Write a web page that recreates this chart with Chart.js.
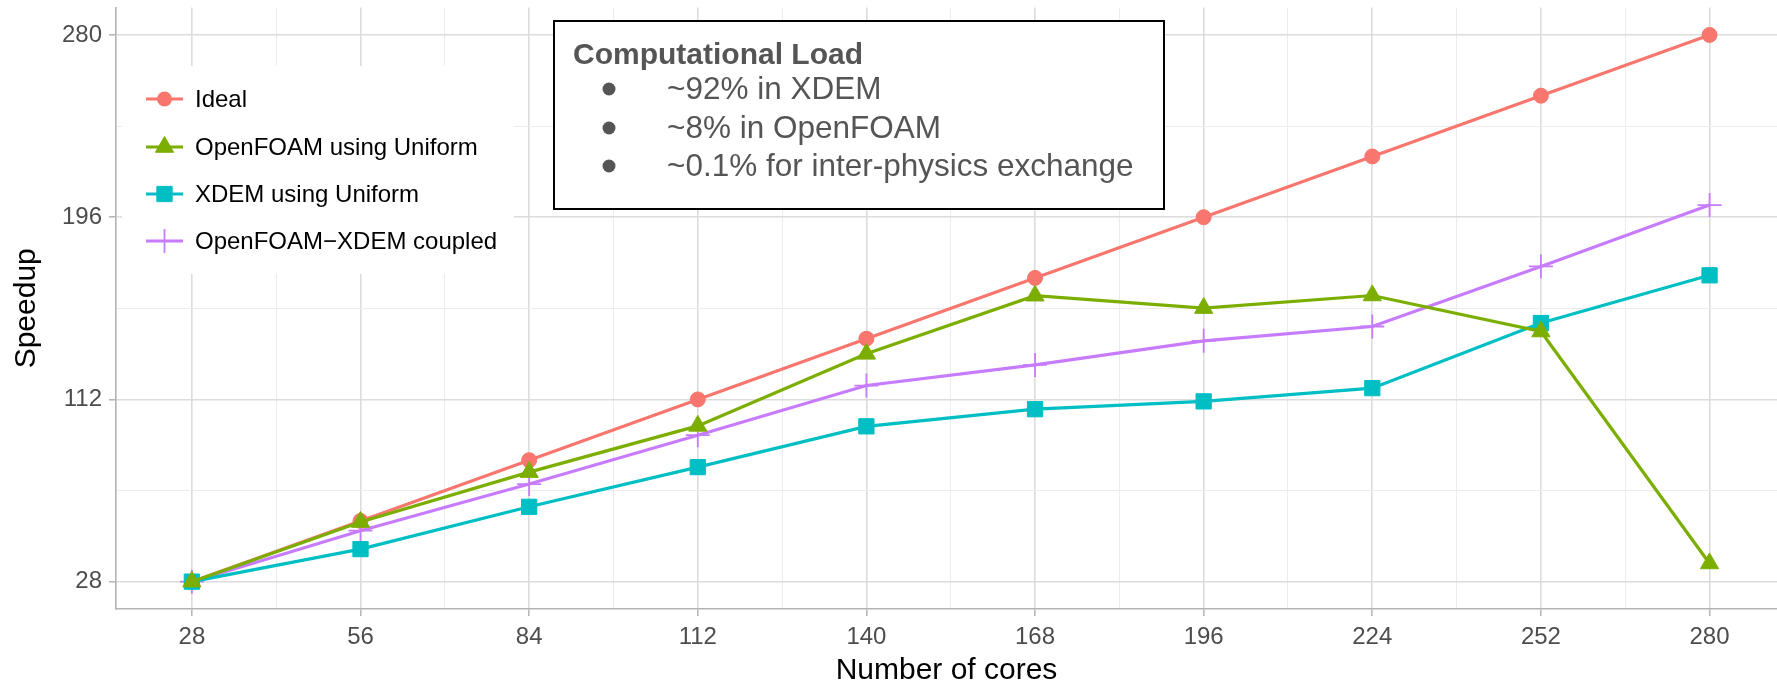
<!DOCTYPE html>
<html><head><meta charset="utf-8">
<script src="https://cdn.jsdelivr.net/npm/chart.js@4.4.1/dist/chart.umd.min.js"></script>
<style>html,body{margin:0;padding:0;background:#fff;overflow:hidden;}#wrap{position:relative;width:1777px;height:681px;overflow:hidden;}canvas{display:block;}</style>
</head><body><div id="wrap"><canvas id="c"></canvas></div>
<script>
const cores = [28, 56, 84, 112, 140, 168, 196, 224, 252, 280];
const idealSpeedup = [28, 56, 84, 112, 140, 168, 196, 224, 252, 280];
const openfoamUniform = [28, 55.5, 78.5, 99.8, 133, 159.8, 154.1, 159.9, 143.3, 36.4];
const xdemUniform = [28, 43, 62.5, 80.8, 99.6, 107.5, 111.1, 117.2, 147.2, 169.2];
const coupled = [28, 51.5, 73, 95.5, 118.4, 127.9, 139, 145.6, 173.3, 201.6];
const seriesNames = ['Ideal', 'OpenFOAM using Uniform', 'XDEM using Uniform', 'OpenFOAM\u2212XDEM coupled'];
const xMajorTicks = [28, 56, 84, 112, 140, 168, 196, 224, 252, 280];
const xMinorTicks = [42, 70, 98, 126, 154, 182, 210, 238, 266];
const yMajorTicks = [28, 112, 196, 280];
const yMinorTicks = [70, 154, 238];
const boxTitle = 'Computational Load';
const boxItems = ['~92% in XDEM', '~8% in OpenFOAM', '~0.1% for inter-physics exchange'];
const xTitle = 'Number of cores';
const yTitle = 'Speedup';

const colors = ['#F8766D', '#7CAE00', '#00BFC4', '#C77CFF'];
const styles = [
  {pointStyle: 'circle', radius: 7.5},
  {pointStyle: 'triangle', radius: 10.5},
  {pointStyle: 'rect', radius: 10.8},
  {pointStyle: 'cross', radius: 12}
];
const FONT = '"Liberation Sans", Arial, Helvetica, sans-serif';
const seriesData = [idealSpeedup, openfoamUniform, xdemUniform, coupled];
const drawOrder = [4, 1, 2, 3];

const datasets = seriesData.map((arr, i) => ({
  label: seriesNames[i],
  data: cores.map((c, j) => ({x: c, y: arr[j]})),
  borderColor: colors[i],
  backgroundColor: colors[i],
  pointBackgroundColor: colors[i],
  pointBorderColor: colors[i],
  pointBorderWidth: i === 3 ? 1.8 : 1,
  pointStyle: styles[i].pointStyle,
  pointRadius: styles[i].radius,
  pointHoverRadius: styles[i].radius,
  borderWidth: 3.2,
  tension: 0,
  clip: false,
  order: drawOrder[i]
}));

function shape(ctx, style, x, y, r, color) {
  ctx.save();
  ctx.fillStyle = color; ctx.strokeStyle = color; ctx.lineWidth = 1;
  ctx.beginPath();
  if (style === 'circle') {
    ctx.arc(x, y, r, 0, Math.PI * 2); ctx.fill();
  } else if (style === 'triangle') {
    const a = Math.PI / 6;
    ctx.moveTo(x, y - r);
    ctx.lineTo(x + Math.cos(a) * r, y + Math.sin(a) * r);
    ctx.lineTo(x - Math.cos(a) * r, y + Math.sin(a) * r);
    ctx.closePath(); ctx.fill(); ctx.stroke();
  } else if (style === 'rect') {
    const s = r * Math.SQRT1_2;
    ctx.rect(x - s, y - s, 2 * s, 2 * s); ctx.fill(); ctx.stroke();
  } else if (style === 'cross') {
    ctx.lineWidth = 1.8;
    ctx.moveTo(x - r, y); ctx.lineTo(x + r, y);
    ctx.moveTo(x, y - r); ctx.lineTo(x, y + r); ctx.stroke();
  }
  ctx.restore();
}

const overlay = {
  id: 'overlay',
  afterDraw(chart) {
    const ctx = chart.ctx;
    ctx.save();
    ctx.fillStyle = '#ffffff';
    ctx.fillRect(122, 66, 392, 208);
    const rows = [99, 147, 194, 241];
    ctx.font = '24px ' + FONT;
    ctx.textBaseline = 'middle';
    ctx.textAlign = 'left';
    chart.data.datasets.forEach((ds, i) => {
      const y = rows[i];
      ctx.strokeStyle = colors[i]; ctx.lineWidth = 3.2;
      ctx.beginPath(); ctx.moveTo(146, y); ctx.lineTo(183, y); ctx.stroke();
      shape(ctx, styles[i].pointStyle, 164.5, y, styles[i].radius, colors[i]);
      ctx.fillStyle = '#000000';
      ctx.fillText(ds.label, 195, y + 1);
    });
    ctx.restore();
    ctx.save();
    ctx.fillStyle = '#ffffff';
    ctx.fillRect(554, 21, 610, 188);
    ctx.strokeStyle = '#000000'; ctx.lineWidth = 2;
    ctx.strokeRect(554, 21, 610, 188);
    ctx.fillStyle = '#555555';
    ctx.textBaseline = 'middle';
    ctx.textAlign = 'left';
    ctx.font = 'bold 30px ' + FONT;
    ctx.fillText(boxTitle, 573, 56);
    ctx.font = '31.5px ' + FONT;
    const by = [89, 128, 166];
    boxItems.forEach((t, i) => {
      ctx.beginPath(); ctx.arc(609, by[i], 6.5, 0, Math.PI * 2); ctx.fill();
      ctx.fillText(t, 667, by[i] + 1);
    });
    ctx.restore();
  }
};

function gridColor(majors) {
  return (c) => (c.tick && majors.includes(c.tick.value)) ? '#dcdcdc' : '#ececec';
}
function gridWidth(majors) {
  return (c) => (c.tick && majors.includes(c.tick.value)) ? 1.6 : 1;
}
function tickCol(majors) {
  return (c) => (c.tick && majors.includes(c.tick.value)) ? '#b3b3b3' : 'rgba(0,0,0,0)';
}

new Chart(document.getElementById('c'), {
  type: 'line',
  data: {datasets},
  options: {
    responsive: true,
    maintainAspectRatio: false,
    animation: false,
    devicePixelRatio: 1,
    layout: {autoPadding: false, padding: {top: 7.6, right: 0, left: 0, bottom: 0}},
    plugins: {legend: {display: false}, tooltip: {enabled: false}},
    scales: {
      x: {
        type: 'linear',
        min: 15.4, max: 291.2,
        afterBuildTicks: (s) => { s.ticks = [...xMajorTicks, ...xMinorTicks].sort((a, b) => a - b).map(v => ({value: v})); },
        afterFit: (s) => { s.height = 72; s.paddingLeft = 0; s.paddingRight = 0; },
        ticks: {
          autoSkip: false, maxRotation: 0, color: '#4d4d4d', padding: 7,
          font: {family: FONT, size: 24},
          callback: (v) => xMajorTicks.includes(v) ? String(v) : ''
        },
        grid: {color: gridColor(xMajorTicks), lineWidth: gridWidth(xMajorTicks), tickColor: tickCol(xMajorTicks), tickLength: 7, tickWidth: 1.5},
        border: {display: true, color: '#b3b3b3', width: 1.6},
        title: {display: true, text: xTitle, color: '#000000', font: {family: FONT, size: 30, lineHeight: 0.667}, padding: {top: 0, bottom: 0}}
      },
      y: {
        type: 'linear',
        min: 15.4, max: 292.6,
        afterBuildTicks: (s) => { s.ticks = [...yMajorTicks, ...yMinorTicks].sort((a, b) => a - b).map(v => ({value: v})); },
        afterFit: (s) => { s.width = 116; s.paddingTop = 0; s.paddingBottom = 0; },
        ticks: {
          autoSkip: false, color: '#4d4d4d', padding: 7,
          font: {family: FONT, size: 24},
          callback: (v) => yMajorTicks.includes(v) ? String(v) : ''
        },
        grid: {color: gridColor(yMajorTicks), lineWidth: gridWidth(yMajorTicks), tickColor: tickCol(yMajorTicks), tickLength: 7, tickWidth: 1.5},
        border: {display: true, color: '#b3b3b3', width: 1.6},
        title: {display: true, text: yTitle, color: '#000000', font: {family: FONT, size: 30, lineHeight: 1}, padding: {top: 12, bottom: 0}}
      }
    }
  },
  plugins: [overlay]
});
</script>
</body></html>
